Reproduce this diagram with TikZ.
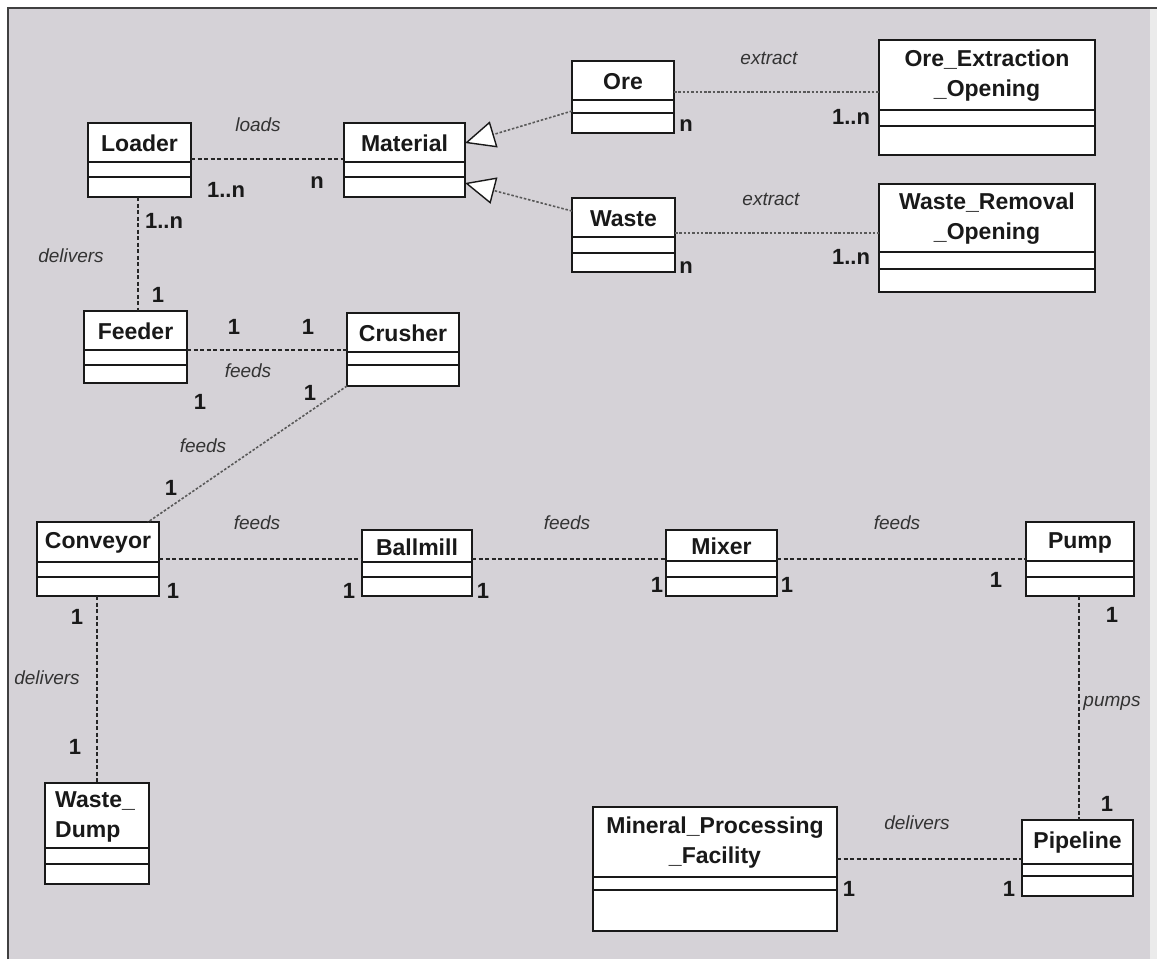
\documentclass[tikz,border=0pt]{standalone}
\usepackage{fontspec}
\setmainfont{Liberation Sans}
\usetikzlibrary{arrows.meta,calc}
\definecolor{panel}{RGB}{213,210,215}
\definecolor{ink}{RGB}{25,25,25}

\tikzset{
  classbox/.style={draw=ink, fill=white, line width=1.6pt, inner sep=0pt, outer sep=0pt, anchor=north west},
  sepline/.style={draw=ink, line width=1.4pt},
  headline/.style={draw=ink, line width=2.8pt},
  classname/.style={font=\fontsize{23}{30}\selectfont\bfseries, inner sep=0pt, align=center, text=ink},
  role/.style={font=\fontsize{19}{21}\selectfont\itshape, inner sep=0pt, text=black!80},
  mult/.style={font=\fontsize{22}{24}\selectfont\bfseries, inner sep=0pt, text=ink},
  assoc/.style={draw=black!85, line width=1.3pt, dash pattern=on 4pt off 2.5pt},
  fineassoc/.style={draw=black!65, line width=1.6pt, dash pattern=on 2.5pt off 1.8pt},
  gen/.style={draw=black!65, line width=1.6pt, dash pattern=on 2.5pt off 1.8pt,
    -{Triangle[open, length=30pt, width=27pt, fill=white, color=ink, line width=1.4pt]}},
}

% UML class: name, x1, y1, x2, y2, header line y, middle line y, title, header line style
\newcommand{\umlclass}[9]{%
  \pgfmathsetmacro{\cw}{#4-#2}\pgfmathsetmacro{\ch}{#5-#3}%
  \node[classbox, minimum width=\cw pt, minimum height=\ch pt] (#1) at (#2,#3) {};
  \draw[#9] (#2,#6) -- (#4,#6);
  \draw[sepline] (#2,#7) -- (#4,#7);
  \node[classname] (#1-title) at ({(#2+#4)/2},{(#3+#6)/2+1}) {#8};
}

\begin{document}
\begin{tikzpicture}[x=1pt, y=-1pt]
  \useasboundingbox (0,0) rectangle (1157,959);
  % panel
  \fill[white] (0,0) rectangle (1157,959);
  \fill[panel] (8,8) rectangle (1150,959);
  \fill[black!8] (1150,8) rectangle (1157,959);
  \draw[black!75, line width=2pt] (8,959) -- (8,8) -- (1157,8);

  % classes
  \umlclass{loader}{88}{123}{191}{197}{162}{177}{Loader}{headline}
  \umlclass{material}{344}{123}{465}{197}{162}{177}{Material}{headline}
  \umlclass{ore}{572}{61}{674}{133}{100}{113}{Ore}{sepline}
  \umlclass{oreopen}{879}{40}{1095}{155}{110}{126}{Ore\_Extraction\\\_Opening}{sepline}
  \umlclass{waste}{572}{198}{675}{272}{237}{253}{Waste}{sepline}
  \umlclass{wasteopen}{879}{184}{1095}{292}{252}{269}{Waste\_Removal\\\_Opening}{sepline}
  \umlclass{feeder}{84}{311}{187}{383}{350}{365}{Feeder}{sepline}
  \umlclass{crusher}{347}{313}{459}{386}{352}{365}{Crusher}{sepline}
  \umlclass{conveyor}{37}{522}{159}{596}{562}{577}{Conveyor}{sepline}
  \umlclass{ballmill}{362}{530}{472}{596}{562}{577}{Ballmill}{sepline}
  \umlclass{mixer}{666}{530}{777}{596}{561}{577}{Mixer}{sepline}
  \umlclass{pump}{1026}{522}{1134}{596}{561}{577}{Pump}{sepline}
  \umlclass{dump}{45}{783}{149}{884}{848}{864}{\hspace*{0pt}}{headline}
  \draw[headline] (45,864) -- (149,864);
  \node[classname, align=left] (dump-text) at (95,817) {Waste\_\\Dump};
  \umlclass{mpf}{593}{807}{837}{931}{877}{890}{Mineral\_Processing\\\_Facility}{sepline}
  \umlclass{pipeline}{1022}{820}{1133}{896}{864}{876}{Pipeline}{sepline}

  % associations
  \draw[assoc] (loader.north east |- 0,159) -- (material.north west |- 0,159);
  \draw[assoc] (loader.south west -| 138,0) -- (feeder.north west -| 138,0);
  \draw[fineassoc] (ore.north east |- 0,92) -- (oreopen.north west |- 0,92);
  \draw[fineassoc] (waste.north east |- 0,233) -- (wasteopen.north west |- 0,233);
  \draw[assoc] (feeder.north east |- 0,350) -- (crusher.north west |- 0,350);
  \draw[fineassoc] (crusher.south west) -- (conveyor.north west -| 148,0);
  \draw[assoc] (conveyor.north east |- 0,559) -- (ballmill.north west |- 0,559);
  \draw[assoc] (ballmill.north east |- 0,559) -- (mixer.north west |- 0,559);
  \draw[assoc] (mixer.north east |- 0,559) -- (pump.north west |- 0,559);
  \draw[assoc] (conveyor.south west -| 97,0) -- (dump.north west -| 97,0);
  \draw[assoc] (pump.south west -| 1079,0) -- (pipeline.north west -| 1079,0);
  \draw[assoc] (mpf.north east |- 0,859) -- (pipeline.north west |- 0,859);

  % generalizations
  \draw[gen] (ore.west |- 0,111) -- (material.east |- 0,143);
  \draw[gen] (waste.west |- 0,211) -- (material.east |- 0,183);

  % role names
  \node[role] (r-loads) at (258,125) {loads};
  \node[role] (r-deliv1) at (71,256) {delivers};
  \node[role] (r-extr1) at (769,58) {extract};
  \node[role] (r-extr2) at (771,199) {extract};
  \node[role] (r-feeds1) at (248,371) {feeds};
  \node[role] (r-feeds2) at (203,446) {feeds};
  \node[role] (r-feeds3) at (257,523) {feeds};
  \node[role] (r-feeds4) at (567,523) {feeds};
  \node[role] (r-feeds5) at (897,523) {feeds};
  \node[role] (r-deliv2) at (47,678) {delivers};
  \node[role] (r-pumps) at (1112,703) {pumps};
  \node[role] (r-deliv3) at (917,823) {delivers};

  % multiplicities
  \node[mult] (m1) at (226,190) {1..n};
  \node[mult] (m2) at (317,183) {n};
  \node[mult] (m3) at (164,221) {1..n};
  \node[mult] (m4) at (158,295) {1};
  \node[mult] (m5) at (686,126) {n};
  \node[mult] (m6) at (851,117) {1..n};
  \node[mult] (m7) at (686,268) {n};
  \node[mult] (m8) at (851,257) {1..n};
  \node[mult] (m9) at (234,327) {1};
  \node[mult] (m10) at (308,327) {1};
  \node[mult] (m11) at (200,402) {1};
  \node[mult] (m12) at (310,393) {1};
  \node[mult] (m13) at (171,488) {1};
  \node[mult] (m14) at (173,591) {1};
  \node[mult] (m15) at (349,591) {1};
  \node[mult] (m16) at (483,591) {1};
  \node[mult] (m17) at (657,585) {1};
  \node[mult] (m18) at (787,585) {1};
  \node[mult] (m19) at (996,580) {1};
  \node[mult] (m20) at (1112,615) {1};
  \node[mult] (m21) at (77,617) {1};
  \node[mult] (m22) at (75,747) {1};
  \node[mult] (m23) at (1107,804) {1};
  \node[mult] (m24) at (849,889) {1};
  \node[mult] (m25) at (1009,889) {1};
\end{tikzpicture}
\end{document}
